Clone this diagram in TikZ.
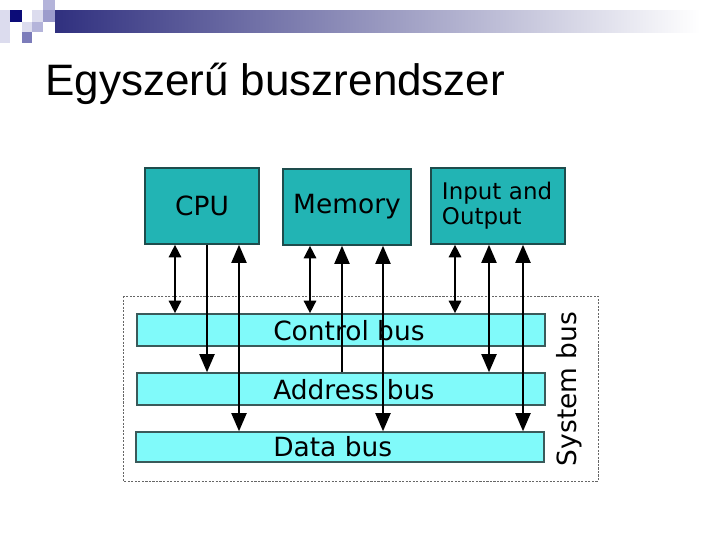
\documentclass[tikz,border=0pt]{standalone}
\usepackage{fontspec}
\setmainfont{Liberation Sans}
\newfontfamily\diagfont{DejaVu Sans}
\usetikzlibrary{arrows.meta, positioning}
\definecolor{unitfill}{HTML}{22B4B4}
\definecolor{unitline}{HTML}{1E4C4C}
\definecolor{busfill}{HTML}{80FAFA}
\definecolor{busline}{HTML}{3A5A5A}
\definecolor{navy}{HTML}{0C0C78}
\definecolor{barnavy}{HTML}{30307F}
\definecolor{lav1}{HTML}{DCDCEE}
\definecolor{lav2}{HTML}{B4B4DA}
\definecolor{lav3}{HTML}{9C9CCC}
\definecolor{lav4}{HTML}{7C7CBA}

\begin{document}
\begin{tikzpicture}[x=0.025cm, y=-0.025cm,
  unit/.style={draw=unitline, line width=0.9pt, fill=unitfill,
    minimum height=1.9cm, inner sep=0pt,
    font=\diagfont\fontsize{18.8}{22}\selectfont},
  bus/.style={draw=busline, line width=0.9pt, fill=busfill,
    minimum width=10.2cm, minimum height=0.8cm, inner sep=0pt},
  bustext/.style={anchor=west, inner sep=0pt,
    font=\diagfont\fontsize{18.8}{22}\selectfont},
  sarr/.style={line width=2.1pt, >={Triangle[length=9pt, width=8.5pt]}},
  barr/.style={line width=2.1pt, >={Triangle[length=13pt, width=10.5pt]}}]
  \useasboundingbox (0,0) rectangle (720,540);

  % slide header decoration
  \shade[left color=barnavy, right color=white] (55,10) rectangle (700,32);
  \fill[lav1] (0,10) rectangle (10,43);
  \fill[navy] (10,10) rectangle (22,22);
  \fill[lav1] (32,10) rectangle (43,22);
  \fill[lav2] (43,0) rectangle (55,10);
  \fill[lav3] (43,10) rectangle (55,22);
  \fill[lav1] (22,22) rectangle (32,32);
  \fill[lav2] (32,22) rectangle (43,32);
  \fill[lav4] (22,32) rectangle (32,43);

  % title
  \node[anchor=base west, inner sep=0pt, font=\fontsize{31.3}{36}\selectfont]
    (title) at (45,95) {Egyszerű buszrendszer};

  % system bus frame
  \draw[gray!80!black, line width=0.6pt, dash pattern=on 1.5pt off 1pt]
    (123,296) rectangle (598,481);
  \node[rotate=90, inner sep=0pt, font=\diagfont\fontsize{18.8}{22}\selectfont]
    (sysbus) at (569,389) {System bus};

  % units
  \node[unit, minimum width=2.85cm] (cpu) at (202,206) {CPU};
  \node[unit, minimum width=3.2cm] (mem) at (347,207) {\raisebox{5pt}{Memory}};
  \node[unit, minimum width=3.35cm, text width=2.8cm, align=left,
    font=\diagfont\fontsize{16.3}{18}\selectfont] (io) at (498,206)
    {Input and\\Output};

  % buses
  \node[bus] (ctrl) at (341,330) {};
  \node[bus] (addr) at (341,389) {};
  \node[bus, minimum height=0.75cm] (data) at (340,447) {};
  \node[bustext] (ctrltxt) at (273,331) {Control bus};
  \node[bustext] (addrtxt) at (273,390) {Address bus};
  \node[bustext] (datatxt) at (273,447) {Data bus};

  % CPU lines
  \draw[sarr, <->] (cpu.south -| 175,0) -- (ctrl.north -| 175,0);
  \draw[barr, ->] (cpu.south -| 207,0) -- (addr.north -| 207,0);
  \draw[barr, <->] (cpu.south -| 239,0) -- (data.north -| 239,0);

  % memory lines
  \draw[sarr, <->] (mem.south -| 310,0) -- (ctrl.north -| 310,0);
  \draw[barr, ->] (addr.north -| 342,0) -- (mem.south -| 342,0);
  \draw[barr, <->] (mem.south -| 383,0) -- (data.north -| 383,0);

  % I/O lines
  \draw[sarr, <->] (io.south -| 455,0) -- (ctrl.north -| 455,0);
  \draw[barr, <->] (io.south -| 489,0) -- (addr.north -| 489,0);
  \draw[barr, <->] (io.south -| 523,0) -- (data.north -| 523,0);
\end{tikzpicture}
\end{document}
